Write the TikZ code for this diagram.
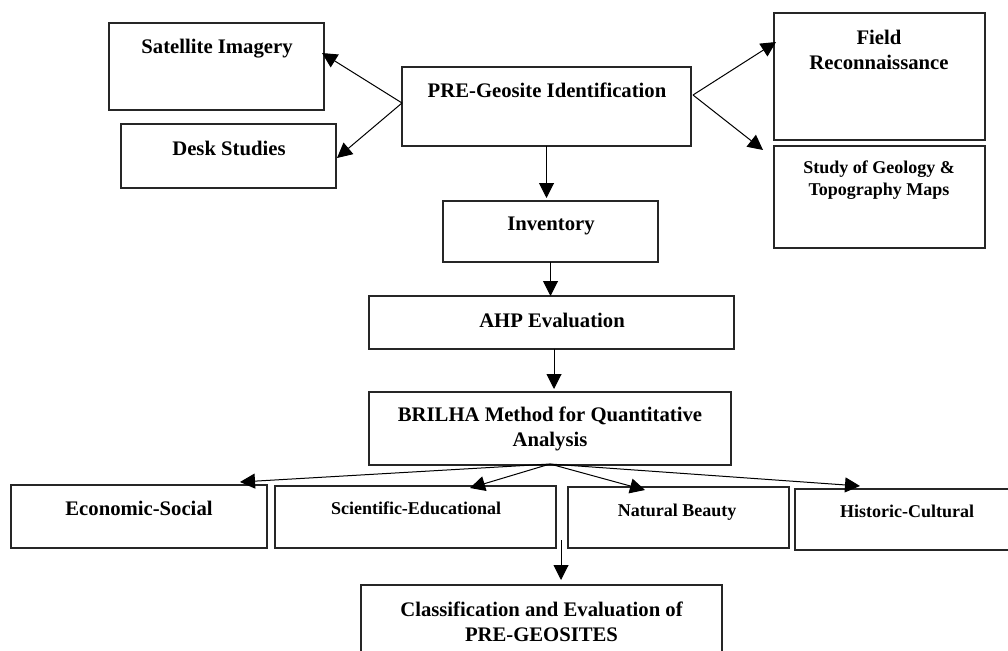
\documentclass[tikz,border=0pt]{standalone}
\usepackage{fontspec}
\setmainfont{Liberation Serif}
\usetikzlibrary{arrows.meta,calc}
\newcommand{\bigf}{\fontsize{20.7}{25}\selectfont\bfseries}
\newcommand{\smallf}{\fontsize{18}{22.5}\selectfont\bfseries}
\newcommand{\bx}[5]{\node[boxst, minimum width={(#4-#2)*1pt}, minimum height={(#5-#3)*1pt}] (#1) at ({(#2+#4)/2},{(#3+#5)/2}) {};}
\tikzset{
  boxst/.style={draw=black!85, line width=1.1pt, inner sep=0pt, outer sep=0pt},
  lbl/.style={anchor=base, inner sep=0pt, align=center},
  arr/.style={draw, line width=1pt, -{Triangle[length=15pt,width=15pt]}},
}
\begin{document}
\begin{tikzpicture}[x=1pt,y=-1pt]
\useasboundingbox (0,0) rectangle (1008,650);
\clip (0,0) rectangle (1008,650);
% boxes
\bx{sat}{109}{23}{324}{110}
\bx{desk}{121}{124}{336}{188}
\bx{pre}{402}{67}{691}{146}
\bx{field}{774}{13}{985}{140}
\bx{study}{774}{146}{985}{248}
\bx{inv}{443}{201}{658}{262}
\bx{ahp}{369}{296}{734}{349}
\bx{bril}{369}{392}{731}{465}
\bx{econ}{11}{485}{267}{548}
\bx{sci}{275}{486}{556}{548}
\bx{nat}{568}{487}{789}{548}
\bx{hist}{795}{489}{1019}{550}
\bx{cls}{361}{585}{722}{665}
% labels (multi-line: coordinate is the baseline of the last line)
\node[lbl, font=\bigf] (tsat) at (217,54) {Satellite Imagery};
\node[lbl, font=\bigf] (tdesk) at (229,155) {Desk Studies};
\node[lbl, font=\bigf] (tpre) at (547,98) {PRE-Geosite Identification};
\node[lbl, font=\bigf] (tfield) at (879,70) {Field\\Reconnaissance};
\node[lbl, font=\smallf] (tstudy) at (879,195.5) {Study of Geology \&\\Topography Maps};
\node[lbl, font=\bigf] (tinv) at (551,230) {Inventory};
\node[lbl, font=\bigf] (tahp) at (552,327) {AHP Evaluation};
\node[lbl, font=\bigf] (tbril) at (550,446) {BRILHA Method for Quantitative\\Analysis};
\node[lbl, font=\bigf] (tecon) at (139,515) {Economic-Social};
\node[lbl, font=\smallf] (tsci) at (416,514) {Scientific-Educational};
\node[lbl, font=\smallf] (tnat) at (677,516) {Natural Beauty};
\node[lbl, font=\smallf] (thist) at (907,517) {Historic-Cultural};
\node[lbl, font=\bigf] (tcls) at (541.5,641) {Classification and Evaluation of\\PRE-GEOSITES};
% connectors
\coordinate (pl) at ($(pre.west)+(0,-3.5)$);
\coordinate (pr) at ($(pre.east)+(2,-11.5)$);
\draw[arr] (pl) -- ($(sat.east)+(-2,-13.5)$);
\draw[arr] (pl) -- ($(desk.east)+(1,2)$);
\draw[arr] (pr) -- ($(field.west)+(2,-34.5)$);
\draw[arr] (pr) -- ($(study.north west)+(-11,4)$);
\draw[arr] (pre.south) -- ($(pre.south |- inv.north)+(0,-3)$);
\draw[arr] (inv.south) -- (inv.south |- ahp.north);
\draw[arr] ($(ahp.south)+(2.5,0)$) -- ($(ahp.south)+(2.5,40)$);
\coordinate (fan) at ($(bril.south)+(0,-1)$);
\draw[arr] (fan) -- ($(econ.north)+(101,-3)$);
\draw[arr] (fan) -- ($(sci.north)+(54.5,2)$);
\draw[arr] (fan) -- ($(nat.north)+(-33.5,3)$);
\draw[arr] (fan) -- ($(hist.north)+(-47,-3)$);
\draw[arr] ($(sci.south east)+(5,-8)$) -- ($(sci.south east)+(5,32)$);
\end{tikzpicture}
\end{document}
